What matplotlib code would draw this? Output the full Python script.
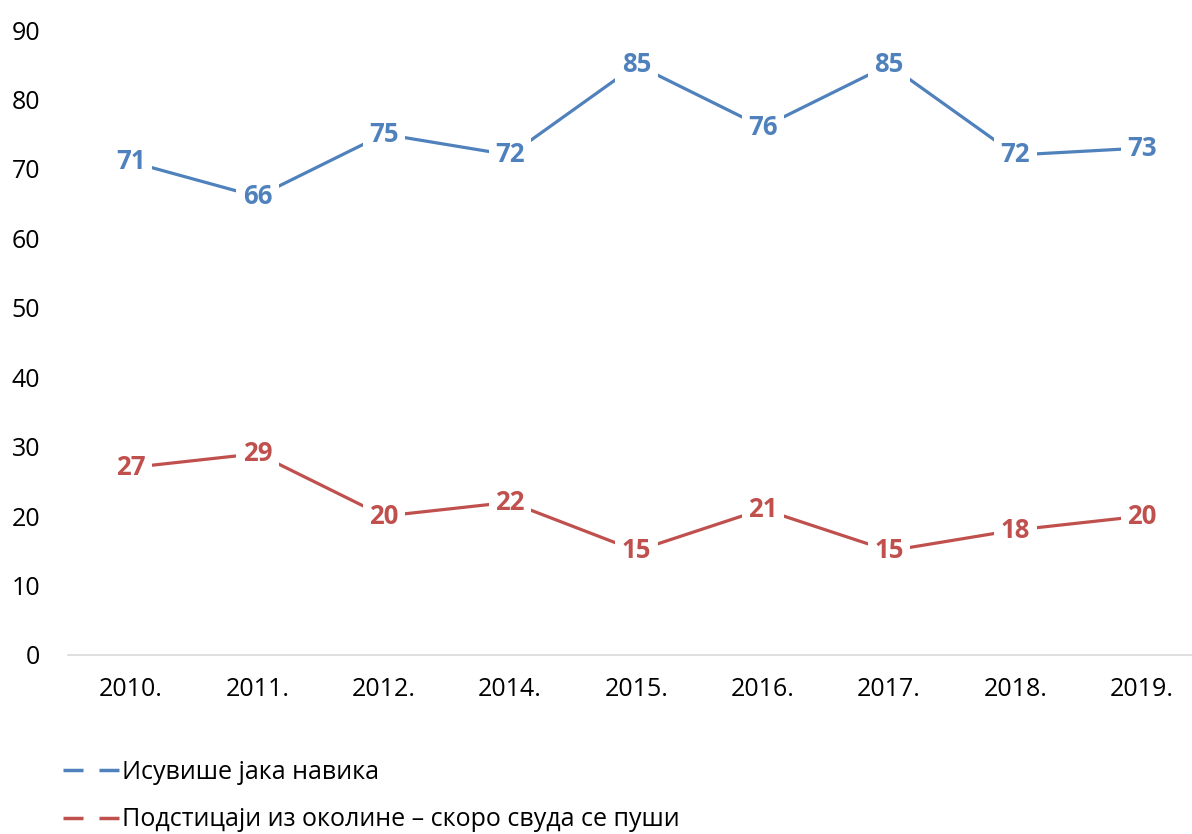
import matplotlib
matplotlib.use("Agg")
import matplotlib.pyplot as plt
from matplotlib.lines import Line2D

plt.rcParams['font.family'] = ['Open Sans', 'DejaVu Sans']
plt.rcParams['lines.scale_dashes'] = False

# data
years = ["2010.", "2011.", "2012.", "2014.", "2015.", "2016.", "2017.", "2018.", "2019."]
habit = [71, 66, 75, 72, 85, 76, 85, 72, 73]
surroundings = [27, 29, 20, 22, 15, 21, 15, 18, 20]
labels = ["Исувише јака навика", "Подстицаји из околине – скоро свуда се пуши"]

blue = "#4F81BD"
red = "#C0504D"

fig = plt.figure(figsize=(11.92, 8.34), dpi=100)
ax = fig.add_axes([68 / 1192, 1 - 655 / 834, 1137 / 1192, 625 / 834])

x = list(range(len(years)))
for vals, col in [(habit, blue), (surroundings, red)]:
    ax.plot(x, vals, color=col, lw=2.3, solid_capstyle="butt")
    for xi, v in zip(x, vals):
        ax.text(xi, v, str(v), ha="center", va="center", color=col, fontsize=18.5,
                fontweight="bold",
                bbox=dict(boxstyle="square,pad=0.25", fc="white", ec="none"))

ax.set_xlim(-0.5, len(years) - 0.5)
ax.set_ylim(0, 90)
ax.set_yticks(range(0, 91, 10))
ax.set_xticks(x)
ax.set_xticklabels(years)
ax.tick_params(axis="both", length=0, labelsize=18)
ax.tick_params(axis="y", pad=20)
ax.tick_params(axis="x", pad=16)
for s in ["top", "right", "left"]:
    ax.spines[s].set_visible(False)
ax.spines["bottom"].set_color("#D9D9D9")
ax.spines["bottom"].set_linewidth(1.2)

handles = [Line2D([], [], color=blue, lw=2.5, dashes=(14.4, 11.5)),
           Line2D([], [], color=red, lw=2.5, dashes=(14.4, 11.5))]
fig.legend(handles, labels, loc="upper left", bbox_to_anchor=(63 / 1192, 1 - 760 / 834),
           frameon=False, fontsize=18, handlelength=2.22, handletextpad=0.16,
           labelspacing=0.9, borderpad=0, borderaxespad=0)

fig.savefig("out.png", dpi=100)
